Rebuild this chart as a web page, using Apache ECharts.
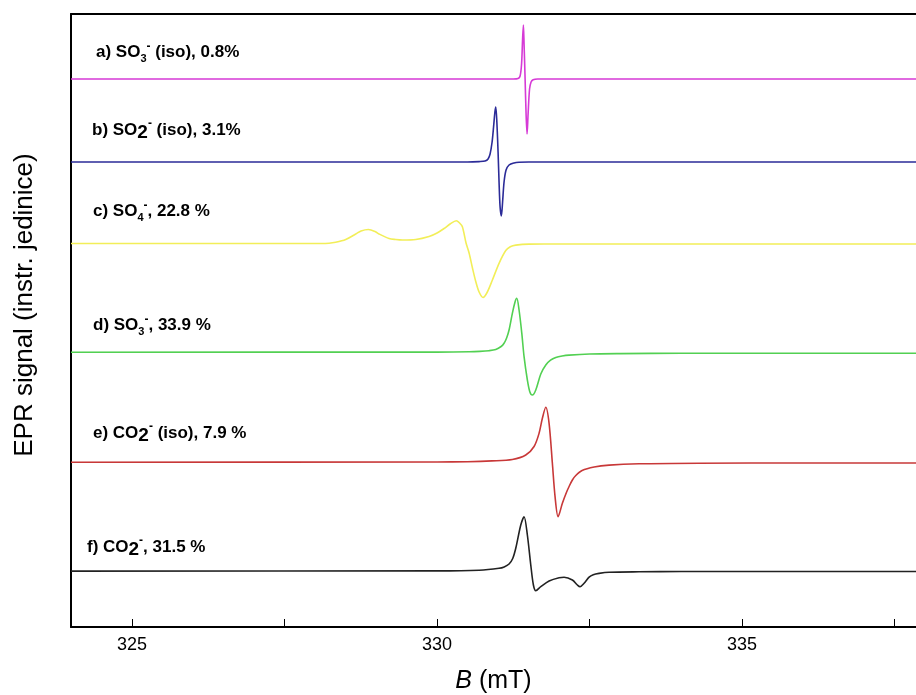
<!DOCTYPE html>
<html>
<head>
<meta charset="utf-8">
<script src="https://cdn.jsdelivr.net/npm/echarts@6/dist/echarts.min.js"></script>
<style>
html,body{margin:0;padding:0;background:#fff;}
#chart{width:916px;height:695px;}
</style>
</head>
<body>
<div id="chart"></div>
<script>
// ---- data (B in mT, signal in arbitrary units) ----
const xTicks = [325, 327.5, 330, 332.5, 335, 337.5];
const xTickLabels = [325, 330, 335];

// vertical offsets (baselines) of each spectrum, arbitrary units
const baselines = [548, 465, 383.5, 274, 164.5, 55.5];

const specA = [[324,0],[331.250,0],[331.328,0.5],[331.361,3],[331.385,15],[331.402,40],[331.415,54],[331.426,35],[331.443,0],[331.459,-35],[331.475,-55],[331.492,-35],[331.516,-10],[331.541,-3],[331.574,-0.7],[331.650,0],[337.9,0]];
const specB = [[324,0],[330.500,0],[330.689,0.4],[330.787,1],[330.836,3],[330.869,8],[330.902,20],[330.926,35],[330.948,50],[330.962,55],[330.980,40],[331.000,10],[331.016,-20],[331.033,-45],[331.054,-54],[331.074,-40],[331.098,-20],[331.131,-8],[331.180,-3],[331.262,-1],[331.344,-0.3],[331.500,0],[337.9,0]];
const specC = [[324,0],[327.900,0],[328.230,0.3],[328.339,1.2],[328.503,4],[328.667,9.5],[328.754,12.5],[328.874,14],[328.984,12],[329.049,9.5],[329.213,5],[329.323,4],[329.431,3.5],[329.651,4],[329.869,7],[330.000,10.5],[330.115,15],[330.213,19.5],[330.316,22.8],[330.369,20.5],[330.415,16.8],[330.475,0.5],[330.525,-9.5],[330.582,-25],[330.634,-38],[330.689,-48.5],[330.754,-54],[330.820,-49],[330.907,-36.5],[331.016,-19.8],[331.126,-7],[331.200,-3.3],[331.290,-1.6],[331.508,-0.6],[332.000,-0.5],[337.9,-0.5]];
const specD = [[324,0.8],[330.000,0.9],[330.525,1.2],[330.700,1.6],[330.852,2.3],[330.962,3.5],[331.050,6.5],[331.098,9.7],[331.140,15],[331.180,23],[331.234,39.7],[331.279,51.3],[331.307,54.7],[331.344,43],[331.389,19.7],[331.426,-3.7],[331.480,-27],[331.520,-38.7],[331.562,-42],[331.618,-37],[331.700,-21],[331.782,-12],[331.860,-7.2],[331.946,-4.5],[332.050,-3],[332.164,-2.1],[332.500,-1],[333.000,-0.6],[334.000,-0.3],[337.9,-0.2]];
const specE = [[324,0.3],[330.000,0.5],[330.500,0.8],[330.900,1.6],[331.234,3],[331.454,7.5],[331.590,16],[331.672,29.2],[331.726,44.2],[331.782,55.2],[331.836,39.2],[331.890,-0.8],[331.934,-34.2],[331.984,-54.2],[332.054,-40.8],[332.120,-30],[332.164,-24],[332.218,-17.5],[332.274,-13],[332.377,-8],[332.574,-4.5],[332.820,-2.6],[333.311,-1.3],[334.295,-0.7],[336.000,-0.5],[337.9,-0.5]];
const specF = [[324,0.4],[330.000,0.6],[330.689,1.3],[331.016,3.2],[331.100,4.6],[331.180,7.5],[331.240,13],[331.290,23.2],[331.372,46.5],[331.426,54.8],[331.480,36.5],[331.536,6.5],[331.579,-13.5],[331.618,-19.2],[331.700,-15.2],[331.836,-9.5],[332.000,-6.2],[332.082,-5.8],[332.218,-8.5],[332.300,-13.5],[332.344,-15.2],[332.410,-11.8],[332.492,-5.6],[332.560,-3.2],[332.656,-1.9],[332.820,-0.8],[333.311,-0.3],[334.000,0],[337.9,0]];

const spectra = [specA, specB, specC, specD, specE, specF];
const seriesNames = ['a) SO3- (iso), 0.8%', 'b) SO2- (iso), 3.1%', 'c) SO4-, 22.8 %', 'd) SO3-, 33.9 %', 'e) CO2- (iso), 7.9 %', 'f) CO2-, 31.5 %'];
const labelsRich = [
  'a) SO{sub|3}{sup|-} (iso), 0.8%',
  'b) SO{big|2}{sup|-} (iso), 3.1%',
  'c) SO{sub|4}{sup|-}, 22.8 %',
  'd) SO{sub|3}{sup|-}, 33.9 %',
  'e) CO{big|2}{sup|-} (iso), 7.9 %',
  'f) CO{big|2}{sup|-}, 31.5 %'
];
const colors = ['#d63ad6', '#2b2b98', '#f2ee58', '#52d052', '#c83838', '#222222'];

// ---- chart ----
const chart = echarts.init(document.getElementById('chart'), null, {renderer: 'canvas'});
const FONT = '"Liberation Sans", Arial, sans-serif';

const labelPos = [[96, 53], [92, 130], [93, 212], [93, 326], [93, 433], [87, 547]];

const series = spectra.map((pts, i) => ({
  name: seriesNames[i],
  type: 'line',
  data: pts.map(p => [p[0], p[1] + baselines[i]]),
  showSymbol: false,
  smooth: 0.3,
  lineStyle: {color: colors[i], width: 1.6},
  itemStyle: {color: colors[i]},
  clip: true,
  animation: false
}));

const rich = {
  sub: {fontFamily: FONT, fontSize: 11, fontWeight: 'bold', color: '#000', lineHeight: 23, verticalAlign: 'bottom'},
  sup: {fontFamily: FONT, fontSize: 12, fontWeight: 'bold', color: '#000', lineHeight: 23, verticalAlign: 'top'},
  big: {fontFamily: FONT, fontSize: 19, fontWeight: 'bold', color: '#000', lineHeight: 24, verticalAlign: 'bottom'}
};

const graphics = labelsRich.map((t, i) => ({
  type: 'text',
  left: labelPos[i][0],
  top: labelPos[i][1] - 12,
  style: {
    text: t,
    rich: rich,
    font: 'bold 17px ' + FONT,
    fill: '#000'
  },
  silent: true
}));
graphics.push({
  type: 'text',
  x: 25,
  y: 305,
  rotation: Math.PI / 2,
  style: {
    text: 'EPR signal (instr. jedinice)',
    font: '26px ' + FONT,
    fill: '#000',
    align: 'center',
    verticalAlign: 'middle'
  },
  silent: true
});

chart.setOption({
  backgroundColor: '#fff',
  animation: false,
  grid: {left: 71, right: 0, top: 14, bottom: 68, containLabel: false, outerBoundsMode: 'none'},
  xAxis: [{
    type: 'value',
    position: 'bottom',
    min: 324,
    max: 337.85,
    name: '{i|B} (mT)',
    nameLocation: 'middle',
    nameGap: 42,
    nameTextStyle: {
      fontFamily: FONT, fontSize: 25, color: '#000',
      rich: {i: {fontFamily: FONT, fontSize: 25, fontStyle: 'italic', color: '#000'}}
    },
    axisLine: {show: true, onZero: false, lineStyle: {color: '#000', width: 2}},
    axisTick: {show: true, inside: true, length: 8, customValues: xTicks, lineStyle: {color: '#000', width: 1}},
    axisLabel: {show: true, customValues: xTickLabels, margin: 9, fontFamily: FONT, fontSize: 18, color: '#000'},
    splitLine: {show: false}
  }, {
    type: 'value',
    position: 'top',
    min: 324,
    max: 337.85,
    axisLine: {show: true, onZero: false, lineStyle: {color: '#000', width: 2}},
    axisTick: {show: false},
    axisLabel: {show: false},
    splitLine: {show: false}
  }],
  yAxis: {
    type: 'value',
    min: 0,
    max: 613,
    axisLine: {show: true, onZero: false, lineStyle: {color: '#000', width: 2}},
    axisTick: {show: false},
    axisLabel: {show: false},
    splitLine: {show: false}
  },
  series: series,
  graphic: graphics
});
</script>
</body>
</html>
